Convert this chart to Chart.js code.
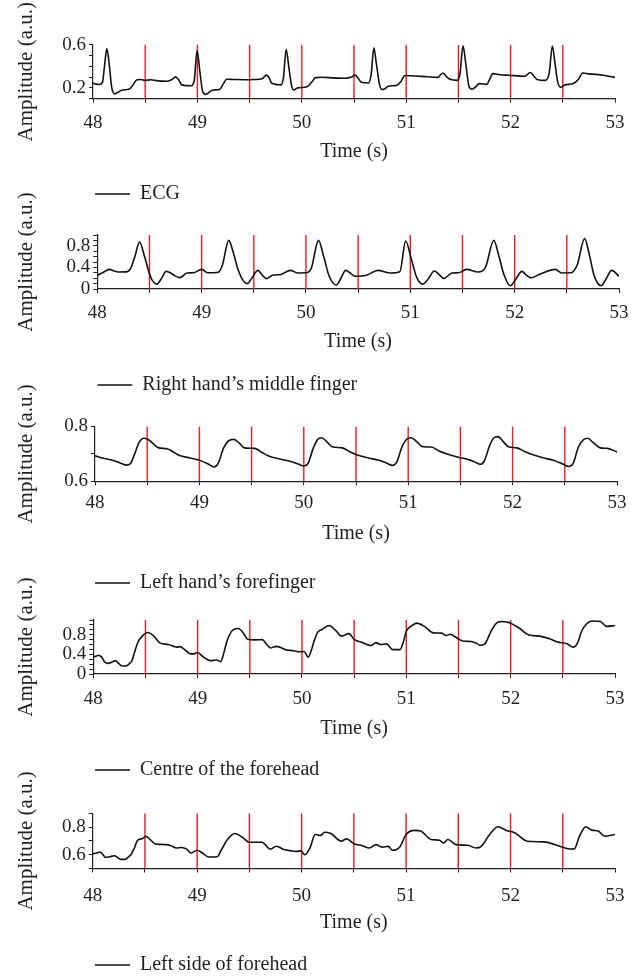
<!DOCTYPE html>
<html><head><meta charset="utf-8">
<script src="https://cdn.jsdelivr.net/npm/chart.js@4/dist/chart.umd.min.js"></script>
<style>
html,body{margin:0;padding:0;background:#fff;}
#wrap{position:relative;width:638px;height:977px;overflow:hidden;background:#fff;}
#wrap canvas{position:absolute;left:0;}
</style></head><body><div id="wrap"></div>
<script>
// ---------- data ----------
const markerTimes = [48.5, 49, 49.5, 50, 50.5, 51, 51.5, 52, 52.5];
const xTickLabels = [48, 49, 50, 51, 52, 53];
const seriesNames = ["ECG", "Right hand\u2019s middle finger", "Left hand\u2019s forefinger", "Centre of the forehead", "Left side of forehead"];

const ecgT = [48.000,48.030,48.060,48.090,48.110,48.133,48.155,48.180,48.210,48.240,48.280,48.350,48.385,48.420,48.460,48.500,48.550,48.620,48.710,48.760,48.790,48.820,48.850,48.940,48.970,48.997,49.025,49.050,49.080,49.120,49.150,49.215,49.250,49.280,49.350,49.450,49.550,49.620,49.660,49.690,49.710,49.800,49.825,49.850,49.875,49.900,49.924,49.960,50.050,50.100,50.130,50.200,50.300,50.420,50.470,50.510,50.540,50.570,50.640,50.665,50.690,50.715,50.745,50.770,50.800,50.830,50.910,50.950,50.987,51.050,51.150,51.300,51.350,51.390,51.420,51.490,51.515,51.544,51.570,51.600,51.630,51.670,51.700,51.770,51.800,51.830,51.900,51.980,52.135,52.190,52.230,52.260,52.330,52.370,52.400,52.425,52.450,52.480,52.520,52.600,52.650,52.690,52.750,52.820,52.900,53.000];
const ecgV = [0.245,0.235,0.232,0.250,0.400,0.565,0.420,0.200,0.145,0.160,0.180,0.190,0.230,0.275,0.278,0.268,0.276,0.265,0.262,0.280,0.302,0.275,0.228,0.220,0.270,0.545,0.340,0.170,0.140,0.165,0.180,0.188,0.240,0.280,0.278,0.276,0.278,0.285,0.318,0.290,0.245,0.228,0.300,0.558,0.400,0.230,0.180,0.200,0.210,0.260,0.295,0.298,0.293,0.290,0.298,0.318,0.290,0.252,0.246,0.330,0.572,0.420,0.230,0.185,0.195,0.215,0.225,0.260,0.315,0.312,0.307,0.297,0.338,0.300,0.280,0.270,0.330,0.590,0.430,0.220,0.188,0.215,0.240,0.233,0.280,0.332,0.322,0.317,0.308,0.342,0.300,0.275,0.270,0.340,0.588,0.430,0.260,0.205,0.228,0.240,0.280,0.338,0.330,0.325,0.315,0.297];

const rightT = [48.000,48.050,48.117,48.160,48.200,48.280,48.320,48.360,48.405,48.450,48.500,48.530,48.570,48.610,48.660,48.700,48.730,48.790,48.860,48.920,49.000,49.060,49.160,49.200,49.260,49.300,49.350,49.400,49.440,49.480,49.540,49.580,49.620,49.680,49.760,49.850,49.920,50.000,50.050,50.120,50.170,50.220,50.290,50.330,50.380,50.420,50.470,50.580,50.690,50.810,50.900,50.955,51.010,51.060,51.120,51.170,51.230,51.280,51.320,51.400,51.460,51.540,51.650,51.720,51.800,51.850,51.900,51.960,52.010,52.070,52.110,52.155,52.240,52.390,52.450,52.540,52.600,52.670,52.720,52.760,52.830,52.880,52.930,53.000];
const rightV = [0.255,0.300,0.364,0.335,0.315,0.318,0.380,0.600,0.870,0.620,0.280,0.150,0.090,0.180,0.327,0.300,0.260,0.210,0.295,0.300,0.364,0.300,0.310,0.450,0.900,0.700,0.350,0.150,0.100,0.200,0.345,0.260,0.190,0.255,0.270,0.345,0.297,0.300,0.380,0.900,0.600,0.250,0.075,0.180,0.345,0.300,0.236,0.255,0.345,0.297,0.320,0.890,0.550,0.220,0.090,0.180,0.333,0.260,0.194,0.297,0.300,0.364,0.315,0.400,0.900,0.600,0.250,0.060,0.180,0.327,0.260,0.206,0.273,0.364,0.297,0.300,0.450,0.933,0.600,0.255,0.060,0.200,0.345,0.236];

const leftFingerT = [48.00,48.08,48.15,48.22,48.26,48.30,48.34,48.38,48.42,48.47,48.52,48.57,48.61,48.69,48.75,48.81,48.90,49.00,49.08,49.14,49.18,49.23,49.28,49.33,49.38,49.43,49.53,49.60,49.67,49.76,49.86,49.94,50.00,50.04,50.09,50.13,50.17,50.22,50.27,50.37,50.44,50.52,50.62,50.72,50.79,50.85,50.89,50.94,50.99,51.03,51.08,51.14,51.22,51.30,51.38,51.48,51.57,51.64,51.69,51.73,51.78,51.82,51.86,51.91,51.96,52.04,52.12,52.21,52.30,52.39,52.47,52.54,52.58,52.63,52.68,52.72,52.77,52.84,52.91,53.00];
const leftFingerV = [0.693,0.684,0.679,0.670,0.664,0.659,0.665,0.700,0.740,0.757,0.750,0.733,0.722,0.719,0.707,0.694,0.686,0.677,0.664,0.652,0.665,0.720,0.748,0.753,0.740,0.722,0.720,0.705,0.691,0.682,0.674,0.664,0.656,0.665,0.720,0.752,0.759,0.745,0.726,0.722,0.708,0.695,0.685,0.677,0.667,0.658,0.670,0.725,0.755,0.759,0.745,0.726,0.725,0.710,0.699,0.688,0.680,0.670,0.662,0.675,0.730,0.758,0.763,0.745,0.726,0.722,0.708,0.695,0.685,0.677,0.665,0.654,0.665,0.725,0.752,0.757,0.742,0.722,0.720,0.707];

const centreT = [48.00,48.03,48.05,48.08,48.11,48.14,48.18,48.21,48.24,48.27,48.31,48.34,48.37,48.40,48.43,48.47,48.52,48.58,48.64,48.72,48.77,48.80,48.83,48.87,48.92,48.96,49.00,49.05,49.09,49.12,49.15,49.18,49.22,49.25,49.28,49.33,49.39,49.44,49.48,49.55,49.62,49.66,49.70,49.73,49.76,49.84,49.92,49.98,50.02,50.06,50.09,50.12,50.15,50.20,50.26,50.32,50.38,50.45,50.50,50.58,50.66,50.71,50.75,50.81,50.87,50.94,50.97,51.00,51.05,51.10,51.18,51.26,51.34,51.38,51.42,51.50,51.55,51.62,51.67,51.71,51.75,51.82,51.88,51.92,51.96,52.00,52.08,52.17,52.29,52.38,52.45,52.54,52.60,52.64,52.68,52.72,52.78,52.86,52.92,53.00];
const centreV = [0.343,0.365,0.382,0.343,0.244,0.217,0.244,0.272,0.222,0.169,0.163,0.200,0.272,0.475,0.657,0.772,0.844,0.772,0.629,0.602,0.563,0.547,0.558,0.508,0.420,0.409,0.437,0.352,0.299,0.272,0.277,0.285,0.251,0.420,0.662,0.882,0.926,0.827,0.706,0.695,0.701,0.607,0.530,0.552,0.563,0.497,0.475,0.453,0.459,0.343,0.486,0.695,0.849,0.915,0.987,0.893,0.772,0.822,0.706,0.640,0.580,0.640,0.602,0.613,0.497,0.497,0.640,0.871,0.981,1.036,0.959,0.838,0.833,0.783,0.811,0.712,0.668,0.662,0.629,0.585,0.607,0.904,1.058,1.069,1.058,1.036,0.937,0.800,0.767,0.712,0.651,0.618,0.547,0.629,0.871,1.003,1.080,1.069,0.970,0.987];

const leftSideT = [48.00,48.04,48.07,48.10,48.12,48.16,48.21,48.24,48.27,48.31,48.34,48.37,48.40,48.43,48.47,48.51,48.55,48.60,48.70,48.75,48.80,48.85,48.90,48.94,49.00,49.05,49.11,49.19,49.23,49.29,49.36,49.44,49.50,49.62,49.70,49.76,49.83,49.90,49.95,49.99,50.03,50.08,50.13,50.18,50.22,50.28,50.38,50.43,50.50,50.58,50.65,50.71,50.77,50.83,50.87,50.94,51.00,51.08,51.14,51.24,51.32,51.36,51.40,51.48,51.59,51.67,51.72,51.80,51.88,51.96,52.04,52.16,52.32,52.49,52.57,52.61,52.66,52.72,52.78,52.84,52.90,53.00];
const leftSideV = [0.607,0.612,0.620,0.600,0.580,0.585,0.592,0.580,0.566,0.566,0.582,0.605,0.650,0.705,0.715,0.734,0.710,0.678,0.673,0.665,0.649,0.652,0.640,0.612,0.632,0.612,0.583,0.585,0.632,0.710,0.754,0.722,0.690,0.690,0.641,0.661,0.637,0.628,0.624,0.628,0.600,0.649,0.746,0.739,0.763,0.754,0.698,0.715,0.680,0.665,0.649,0.673,0.655,0.660,0.632,0.656,0.746,0.776,0.771,0.710,0.705,0.685,0.710,0.673,0.668,0.649,0.661,0.746,0.802,0.776,0.759,0.698,0.693,0.656,0.641,0.642,0.734,0.802,0.778,0.771,0.734,0.746];

// y axis ranges and labelled ticks
const yMins = [0.1, 0, 0.6, 0, 0.5];
const yMaxs = [0.6, 1.0, 0.8, 1.1, 0.9];
const yLabelled = [[0.2, 0.6], [0, 0.4, 0.8], [0.6, 0.8], [0, 0.4, 0.8], [0.6, 0.8]];

// ---------- layout (pixel geometry of each panel) ----------
const geom = [
  {A: 44.7, B: 98.7, L: 93, R: 615, tickC: 121.7, titleC: 152, legC: 194},
  {A: 235, B: 289, L: 97.3, R: 619, tickC: 311.7, titleC: 341.7, legC: 385},
  {A: 426.5, B: 481, L: 95, R: 617, tickC: 501.7, titleC: 533, legC: 582.7},
  {A: 620, B: 674, L: 93.3, R: 615, tickC: 698, titleC: 729, legC: 770},
  {A: 813.3, B: 868.5, L: 92.7, R: 615, tickC: 895, titleC: 923, legC: 965}
];
const seriesT = [ecgT, rightT, leftFingerT, centreT, leftSideT];
const seriesV = [ecgV, rightV, leftFingerV, centreV, leftSideV];

Chart.defaults.font.family = '"Liberation Serif", "Times New Roman", serif';
const TXT = '#231f20';
const RED = '#ec1c24';
const LEGEND_X = 95;

function fmt(v) { return Math.abs(v) < 1e-9 ? '0' : v.toFixed(1); }

function makePanel(i) {
  const g = geom[i];
  const ymin = yMins[i], ymax = yMaxs[i];
  const T = Math.floor(g.A - 52);
  const legFont = 20;
  const legPad = Math.max(0, LEGEND_X - g.L);
  const legendH = legFont + legPad + 10;
  const legTop = g.legC - (legPad + legFont / 2);
  const Hx = legTop - g.B;
  const H = Math.ceil(legTop + legendH - T);
  const tickFont = 19;
  const xTickPad = (g.tickC - g.B) - 4 - 10.5;
  const xTitlePadB = legTop - g.titleC - 12;

  const c = document.createElement('canvas');
  c.width = 638; c.height = H;
  c.style.width = '638px'; c.style.height = H + 'px';
  c.style.top = T + 'px';
  document.getElementById('wrap').appendChild(c);

  const markerData = [];
  markerTimes.forEach(t => { markerData.push({x: t, y: ymin}, {x: t, y: ymax}, {x: t, y: null}); });

  new Chart(c, {
    type: 'line',
    data: {
      datasets: [
        { label: seriesNames[i], data: seriesT[i].map((t, k) => ({x: t, y: seriesV[i][k]})),
          borderColor: '#111', borderWidth: 1.6, pointRadius: 0, cubicInterpolationMode: 'monotone', order: 0, fill: false },
        { label: 'markers', data: markerData, borderColor: RED, borderWidth: 1.4, pointRadius: 0, spanGaps: false, tension: 0, order: 1, fill: false }
      ]
    },
    options: {
      responsive: false, animation: false, devicePixelRatio: 1,
      events: [],
      layout: { padding: { left: 0, right: 638 - g.R, top: g.A - T, bottom: 0 } },
      plugins: {
        tooltip: { enabled: false },
        legend: {
          position: 'bottom', align: 'start', fullSize: false,
          labels: {
            usePointStyle: true, pointStyle: 'line', pointStyleWidth: 35, padding: legPad,
            color: TXT, font: { size: legFont },
            filter: item => item.datasetIndex === 0
          }
        }
      },
      scales: {
        x: {
          type: 'linear', min: 48, max: 53,
          ticks: { stepSize: 0.5, autoSkip: false, maxRotation: 0, padding: xTickPad, color: TXT, font: { size: tickFont },
                   callback: v => xTickLabels.some(l => Math.abs(l - v) < 1e-6) ? String(Math.round(v)) : '' },
          grid: { drawOnChartArea: false, drawTicks: true, tickLength: 4, color: '#231f20', tickWidth: 1 },
          border: { display: true, color: '#231f20', width: 1.2 },
          title: { display: true, text: 'Time (s)', color: TXT, font: { size: 20 }, padding: { top: 0, bottom: xTitlePadB } },
          afterFit: s => { s.height = Hx; }
        },
        y: {
          type: 'linear', min: ymin, max: ymax,
          ticks: { stepSize: 0.1, autoSkip: false, padding: 3, color: TXT, font: { size: tickFont },
                   callback: v => yLabelled[i].some(l => Math.abs(l - v) < 1e-6) ? fmt(v) : '' },
          grid: { drawOnChartArea: false, drawTicks: true, tickLength: 4, color: '#231f20', tickWidth: 1 },
          border: { display: true, color: '#231f20', width: 1.2 },
          title: { display: true, text: 'Amplitude (a.u.)', color: TXT, font: { size: 21 }, padding: { top: 14, bottom: 0 } },
          afterFit: s => { s.width = g.L; }
        }
      }
    }
  });
}
for (let i = 0; i < 5; i++) makePanel(i);
</script></body></html>
